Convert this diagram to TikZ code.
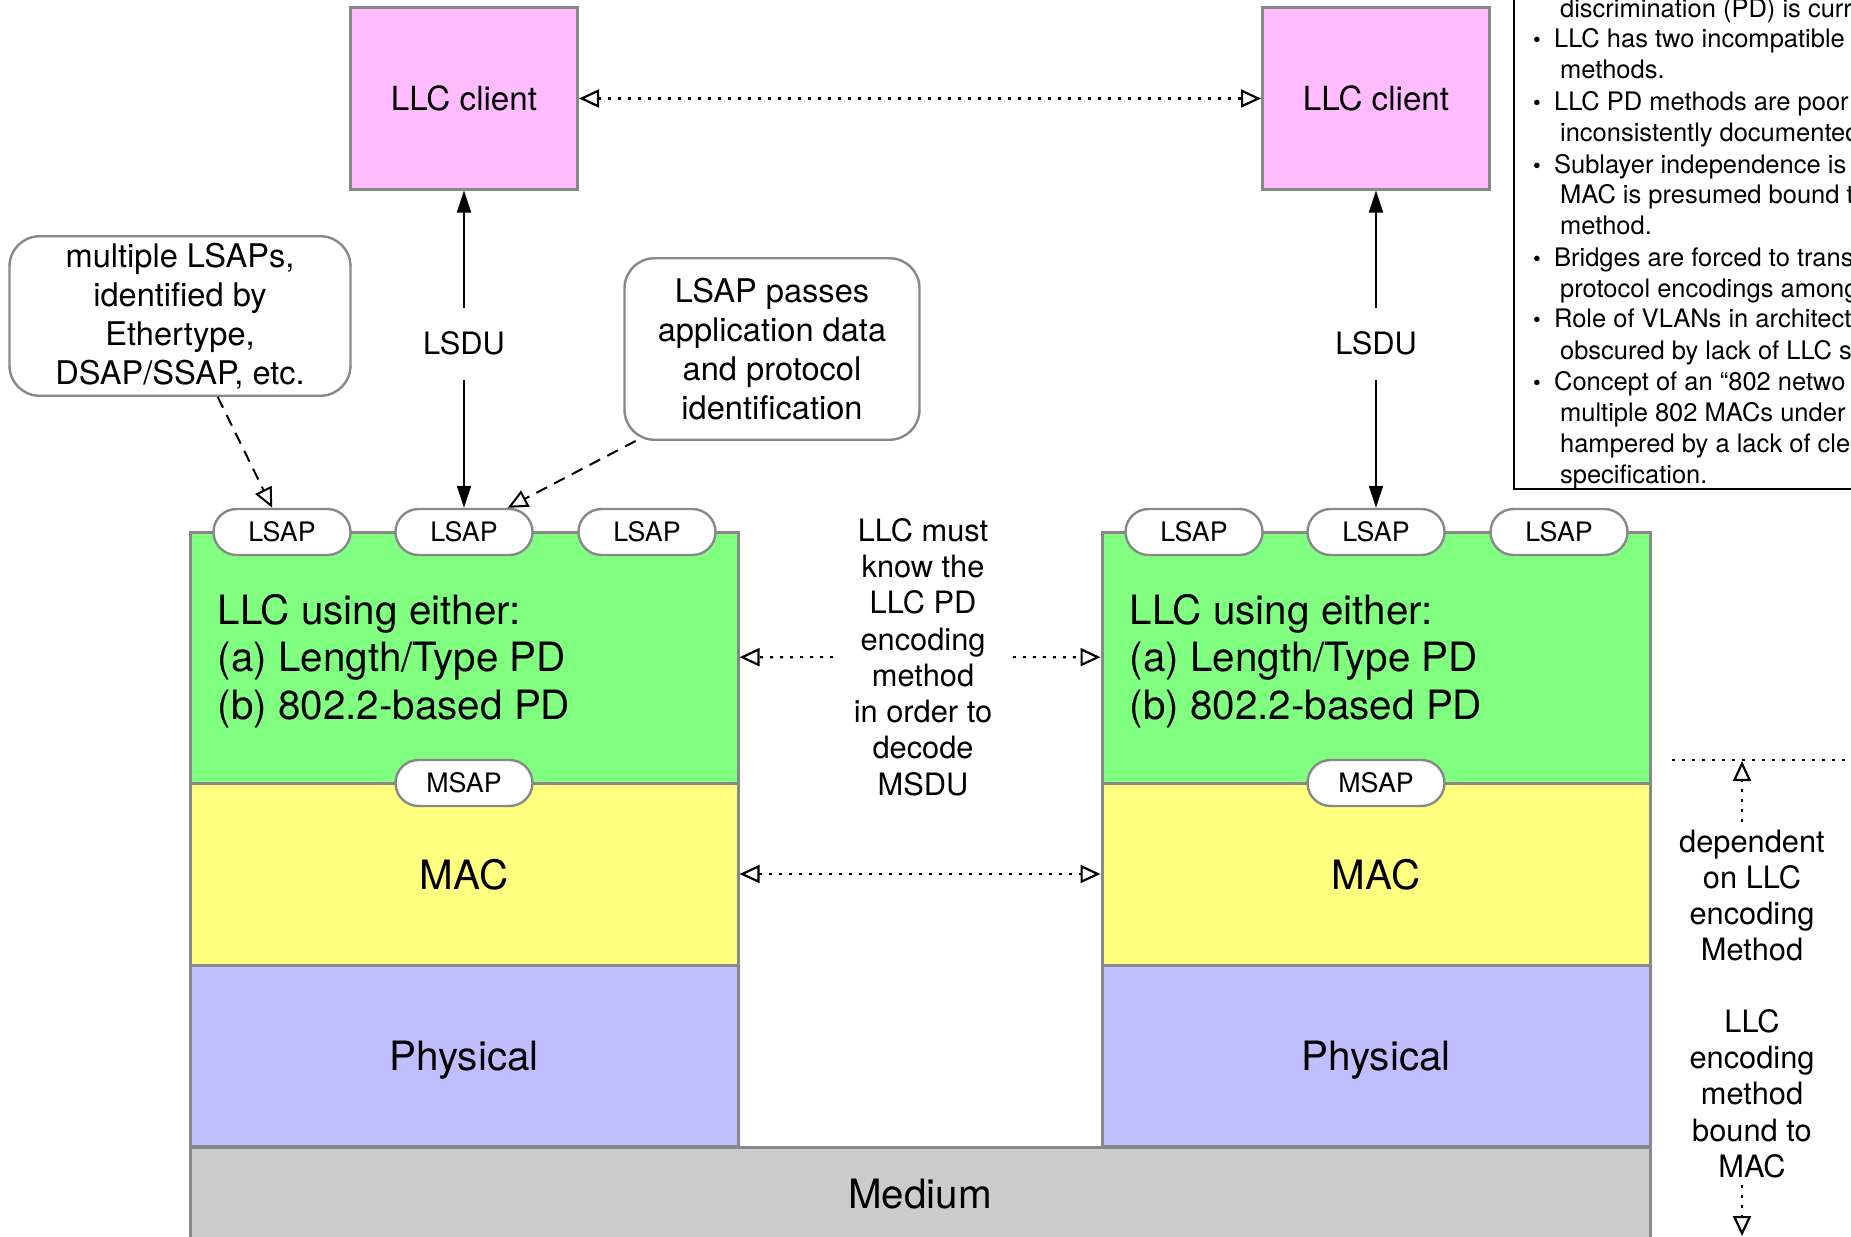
\documentclass[tikz,border=0pt]{standalone}
\usepackage{fontspec}
\setmainfont{TeX Gyre Heros}
\usetikzlibrary{arrows.meta}
\usetikzlibrary{positioning}
\usetikzlibrary{calc}

\definecolor{clientpink}{HTML}{FFBCFF}
\definecolor{llcgreen}{HTML}{80FF80}
\definecolor{macyellow}{HTML}{FFFF80}
\definecolor{phyblue}{HTML}{BFBFFF}
\definecolor{mediumgray}{HTML}{CCCCCC}
\definecolor{edgegray}{HTML}{888888}

\begin{document}
\begin{tikzpicture}[x=0.5pt,y=-0.5pt,semithick,
					>={Triangle[open,length=10pt,width=9pt]}]
					\tikzstyle{stacklayer}=[draw=edgegray,line width=1.5pt,minimum width=274pt,text depth=0pt,font=\fontsize{20.2}{23.6}\selectfont]
					\tikzstyle{sappill}=[draw=edgegray,line width=1.2pt,fill=white,rounded corners=11.5pt,minimum width=68.5pt,minimum height=23pt,inner sep=0pt,font=\fontsize{13.4}{16}\selectfont]
					\tikzstyle{client}=[draw=edgegray,line width=1.5pt,fill=clientpink,minimum width=113.5pt,minimum height=90.5pt,font=\fontsize{16.6}{20}\selectfont]
					\tikzstyle{callout}=[draw=edgegray,line width=1.2pt,fill=white,rounded corners=15pt,align=center,font=\fontsize{16.3}{19.5}\selectfont]
					\tikzstyle{note}=[align=center,font=\fontsize{15.4}{18.15}\selectfont]
					\tikzstyle{issue}=[inner sep=0pt,font=\fontsize{12.75}{15.5}\selectfont]
					\tikzstyle{dotline}=[line width=1.1pt,dash pattern=on 1.5pt off 3.5pt]
					\tikzstyle{dashline}=[line width=1pt,dash pattern=on 6pt off 4pt]
					\tikzstyle{pdu}=[line width=1pt,{Triangle[length=11pt,width=7pt]}-{Triangle[length=11pt,width=7pt]}]
					
					\useasboundingbox (0,0) rectangle (1851,1236);
					\clip (0,0) rectangle (1851,1236);
					
					% left station
					\node[stacklayer,fill=llcgreen,minimum height=125.5pt]  (llcL) at (464,657.5) {};
					\node[stacklayer,fill=macyellow,minimum height=91pt]    (macL) at (464,874)   {MAC};
					\node[stacklayer,fill=phyblue,minimum height=90.75pt]   (phyL) at (464,1056)  {Physical};
					\node[font=\fontsize{20.2}{23.6}\selectfont,align=left,anchor=west,inner sep=0pt] (llcTextL) at (217,661)
						{LLC using either:\\(a) Length/Type PD\\(b) 802.2-based PD};
					\node[sappill] (lsapLa) at (282,532) {LSAP};
					\node[sappill] (lsapLb) at (464,532) {LSAP};
					\node[sappill] (lsapLc) at (647,532) {LSAP};
					\node[sappill] (msapL)  at (464,783) {MSAP};
					\node[client]  (clientL) at (464,98.5) {LLC client};
					
					% right station
					\node[stacklayer,fill=llcgreen,minimum height=125.5pt]  (llcR) at (1376,657.5) {};
					\node[stacklayer,fill=macyellow,minimum height=91pt]    (macR) at (1376,874)   {MAC};
					\node[stacklayer,fill=phyblue,minimum height=90.75pt]   (phyR) at (1376,1056)  {Physical};
					\node[font=\fontsize{20.2}{23.6}\selectfont,align=left,anchor=west,inner sep=0pt] (llcTextR) at (1129,661)
						{LLC using either:\\(a) Length/Type PD\\(b) 802.2-based PD};
					\node[sappill] (lsapRa) at (1194,532) {LSAP};
					\node[sappill] (lsapRb) at (1376,532) {LSAP};
					\node[sappill] (lsapRc) at (1559,532) {LSAP};
					\node[sappill] (msapR)  at (1376,783) {MSAP};
					\node[client]  (clientR) at (1376,98.5) {LLC client};
					
					\node[stacklayer,fill=mediumgray,minimum width=730pt,minimum height=46.5pt] (medium) at (920,1193.5) {Medium};
					
					% notes
					\node[callout,minimum width=170.5pt,minimum height=79.5pt] (lsapNote) at (180,316)
						{multiple LSAPs,\\identified by\\Ethertype,\\DSAP/SSAP, etc.};
					\node[callout,minimum width=147.5pt,minimum height=90.75pt] (passNote) at (772,349)
						{LSAP passes\\application data\\and protocol\\identification};
					\node[note,inner xsep=10pt] (knowNote) at (923,657)
						{LLC must\\know the\\LLC PD\\encoding\\method\\in order to\\decode\\MSDU};
					\node[note] (depNote)   at (1752,895.5)  {dependent\\on LLC\\encoding\\Method};
					\node[note] (boundNote) at (1752,1093.5) {LLC\\encoding\\method\\bound to\\MAC};
					
					\coordinate (sepL)    at (1672,760);
					\coordinate (sepR)    at (1870,760);
					\coordinate (upTip)   at (1742,761);
					\coordinate (downTip) at (1742,1236);
					
					% issues list, cut by the page edge
					\node[draw,line width=1.2pt,minimum width=190pt,minimum height=260pt,anchor=south west,inner sep=0pt] (issues) at (1513,490) {};
					\foreach \yy/\txt [count=\i] in {48/LLC has two incompatible,110.5/LLC PD methods are poor,
						173/Sublayer independence is,266.3/Bridges are forced to trans,327.7/Role of VLANs in architectu,
						390.3/Concept of an “802 netwo}
					{
						\node[issue,anchor=base] (bullet\i) at (1537,\yy) {\fontsize{11}{11}\selectfont\textbullet};
						\node[issue,anchor=base west] (item\i) at (1553.5,\yy) {\txt};
					}
					\foreach \yy/\txt [count=\i] in {17.3/discrimination (PD) is curre,78.6/methods.,141.2/inconsistently documented,
						203.8/MAC is presumed bound t,234.5/method.,297/protocol encodings among,359.6/obscured by lack of LLC s,
						421/multiple 802 MACs under,452.9/hampered by a lack of cle,483.6/specification.}
					{
						\node[issue,anchor=base west] (cont\i) at (1559.5,\yy) {\txt};
					}
					
					\path (lsapLb) edge[pdu] node[note,fill=white,inner xsep=2pt,inner ysep=12pt,pos=0.517] (lsduL) {LSDU} (clientL)
					(lsapRb) edge[pdu] node[note,fill=white,inner xsep=2pt,inner ysep=12pt,pos=0.517] (lsduR) {LSDU} (clientR)
					(clientL) edge[dotline,<->] (clientR)
					(knowNote) edge[dotline,->] (llcL)
					(knowNote) edge[dotline,->] (llcR)
					(macL) edge[dotline,<->] (macR)
					(lsapNote.-65) edge[dashline,->] (lsapLa.112)
					(passNote.-146) edge[dashline,->] (lsapLb.29)
					;
					\draw[dotline] (sepL) -- (sepR);
					\draw[dotline,->] (depNote.north -| upTip) -- (upTip);
					\draw[dotline,->] (boundNote.south -| downTip) -- (downTip);
					\end{tikzpicture}
\end{document}
